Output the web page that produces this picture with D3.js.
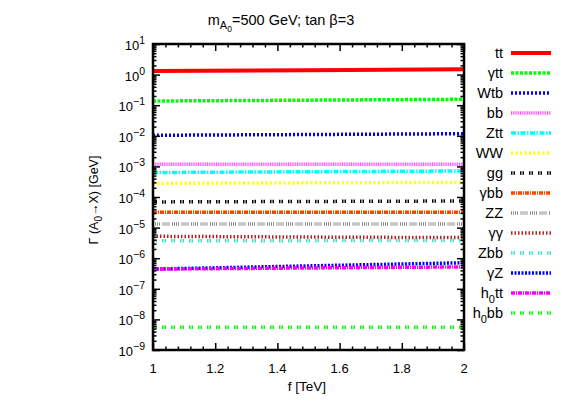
<!DOCTYPE html>
<html><head><meta charset="utf-8">
<script src="https://cdn.jsdelivr.net/npm/d3@7"></script>
<style>
body{margin:0;background:#fff;}
text{font-family:"Liberation Sans",Arial,Helvetica,sans-serif;fill:#000;}
</style></head>
<body><svg id="c" width="574" height="402"></svg>
<script>
// ---- data ----
const fValues = [1.0, 1.5, 2.0];
const channels = ["tt","γtt","Wtb","bb","Ztt","WW","gg","γbb","ZZ","γγ","Zbb","γZ","h0tt","h0bb"];
const tt   = [1.31, 1.40, 1.49];
const gtt  = [0.137, 0.146, 0.156];
const Wtb  = [0.0104, 0.0110, 0.0117];
const bb   = [1.17e-3, 1.17e-3, 1.17e-3];
const Ztt  = [6.3e-4, 6.7e-4, 7.1e-4];
const WW   = [2.8e-4, 2.9e-4, 3.0e-4];
const gg   = [6.9e-5, 7.15e-5, 7.4e-5];
const gbb  = [3.2e-5, 3.2e-5, 3.2e-5];
const ZZ   = [1.3e-5, 1.3e-5, 1.3e-5];
const gaga = [5.2e-6, 4.9e-6, 4.7e-6];
const Zbb  = [3.7e-6, 3.75e-6, 3.8e-6];
const gZ   = [4.4e-7, 5.6e-7, 7.1e-7];
const h0tt = [4.4e-7, 4.8e-7, 5.2e-7];
const h0bb = [5.5e-9, 5.5e-9, 5.5e-9];
const seriesValues = [tt,gtt,Wtb,bb,Ztt,WW,gg,gbb,ZZ,gaga,Zbb,gZ,h0tt,h0bb];
const xTicks = [1, 1.2, 1.4, 1.6, 1.8, 2];
const xTickLabels = ["1","1.2","1.4","1.6","1.8","2"];
const yExponents = [1,0,-1,-2,-3,-4,-5,-6,-7,-8,-9];

// ---- styles ----
const colors = ["#ff0000","#00ff00","#0000ff","#ff4dff","#00ffff","#ffff00","#000000","#ff4500","#8c8c8c","#b22222","#40e0d0","#0000ff","#ff00ff","#00ff00"];
const dashes = [null,"3,1.5","2,2","1,0.8","5,1.5,1.5,1.5","2,2.5","1.5,1,1.5,5","4,1,1,1","1,1,1,1,1,1,1,2.5","1.5,2","1.5,1,1.5,5","2,1.5","4,1,1,1","1.5,1,1.5,5"];
const widths = [4,3.5,3.5,3.5,3.5,3.5,3.5,3.5,3.5,3.5,3.5,3.5,3.5,3.5];

const svg = d3.select("#c");
const L=153, R=464, T=44, B=350;
const x = d3.scaleLinear().domain([1,2]).range([L,R]);
const y = d3.scaleLog().domain([1e-9,1e1]).range([B,T]);

// series
const line = d3.line().x((d,i)=>x(fValues[i])).y(d=>y(d));
const gSeries = svg.append("g");
seriesValues.forEach((vals,k)=>{
  gSeries.append("path").datum(vals).attr("d",line)
    .attr("fill","none").attr("stroke",colors[k]).attr("stroke-width",widths[k])
    .attr("stroke-dasharray",dashes[k]);
});

// minor ticks
const yMinor=[];
for(let e=-9;e<1;e++){for(let m=2;m<=9;m++)yMinor.push(m*Math.pow(10,e));}
const xMinor=d3.range(1,2.0001,0.04).filter(v=>Math.abs(Math.round(v*5)-v*5)>1e-6);

function styleAxis(g){g.select(".domain").remove();g.selectAll("line").attr("stroke","#000").attr("stroke-width",1.5);g.selectAll("text").remove();}
svg.append("g").attr("transform",`translate(${L},0)`).call(d3.axisLeft(y).tickValues(yExponents.map(e=>Math.pow(10,e))).tickSize(-7)).call(styleAxis);
svg.append("g").attr("transform",`translate(${L},0)`).call(d3.axisLeft(y).tickValues(yMinor).tickSize(-3.5)).call(styleAxis);
svg.append("g").attr("transform",`translate(${R},0)`).call(d3.axisRight(y).tickValues(yExponents.map(e=>Math.pow(10,e))).tickSize(-7)).call(styleAxis);
svg.append("g").attr("transform",`translate(${R},0)`).call(d3.axisRight(y).tickValues(yMinor).tickSize(-3.5)).call(styleAxis);
svg.append("g").attr("transform",`translate(0,${B})`).call(d3.axisBottom(x).tickValues(xTicks).tickSize(-7)).call(styleAxis);
svg.append("g").attr("transform",`translate(0,${B})`).call(d3.axisBottom(x).tickValues(xMinor).tickSize(-3.5)).call(styleAxis);
svg.append("g").attr("transform",`translate(0,${T})`).call(d3.axisTop(x).tickValues(xTicks).tickSize(-7)).call(styleAxis);
svg.append("g").attr("transform",`translate(0,${T})`).call(d3.axisTop(x).tickValues(xMinor).tickSize(-3.5)).call(styleAxis);

// frame
svg.append("rect").attr("x",L).attr("y",T).attr("width",R-L).attr("height",B-T)
  .attr("fill","none").attr("stroke","#000").attr("stroke-width",2.5);

// x tick labels
xTicks.forEach((v,i)=>{
  svg.append("text").attr("x",x(v)).attr("y",B+23).attr("text-anchor","middle")
    .attr("font-size",13).text(xTickLabels[i]);
});
// y tick labels
yExponents.forEach(e=>{
  const t=svg.append("text").attr("x",145).attr("y",y(Math.pow(10,e))+6).attr("text-anchor","end").attr("font-size",13);
  t.append("tspan").text("10");
  t.append("tspan").attr("dy",-6).attr("font-size",10.5).text(e<0?"−"+(-e):String(e));
});

// title
const title=svg.append("text").attr("x",281).attr("y",25).attr("text-anchor","middle").attr("font-size",14.5);
title.append("tspan").text("m");
title.append("tspan").attr("dy",4).attr("font-size",11).text("A");
title.append("tspan").attr("dy",3).attr("font-size",8.5).text("0");
title.append("tspan").attr("dy",-7).text("=500 GeV; tan β=3");

// axis labels
svg.append("text").attr("x",307).attr("y",391).attr("text-anchor","middle").attr("font-size",13.5).text("f [TeV]");
const yl=svg.append("text").attr("transform","translate(98,200) rotate(-90)").attr("text-anchor","middle").attr("font-size",12.5);
yl.append("tspan").text("Γ (A");
yl.append("tspan").attr("dy",4).attr("font-size",10).text("0");
yl.append("tspan").attr("dy",-4).text("→X) [GeV]");

// legend
const legendLabels=[["tt"],["γtt"],["Wtb"],["bb"],["Ztt"],["WW"],["gg"],["γbb"],["ZZ"],["γγ"],["Zbb"],["γZ"],["h","0","tt"],["h","0","bb"]];
channels.forEach((c,k)=>{
  const yy=53+20*k;
  const t=svg.append("text").attr("x",503).attr("y",yy+5).attr("text-anchor","end").attr("font-size",14.5);
  const p=legendLabels[k];
  if(p.length===1)t.text(p[0]);
  else{t.append("tspan").text(p[0]);t.append("tspan").attr("dy",5).attr("font-size",11).text(p[1]);t.append("tspan").attr("dy",-5).text(p[2]);}
  svg.append("line").attr("x1",511).attr("x2",551).attr("y1",yy).attr("y2",yy)
    .attr("stroke",colors[k]).attr("stroke-width",widths[k]).attr("stroke-dasharray",dashes[k]);
});
</script></body></html>
